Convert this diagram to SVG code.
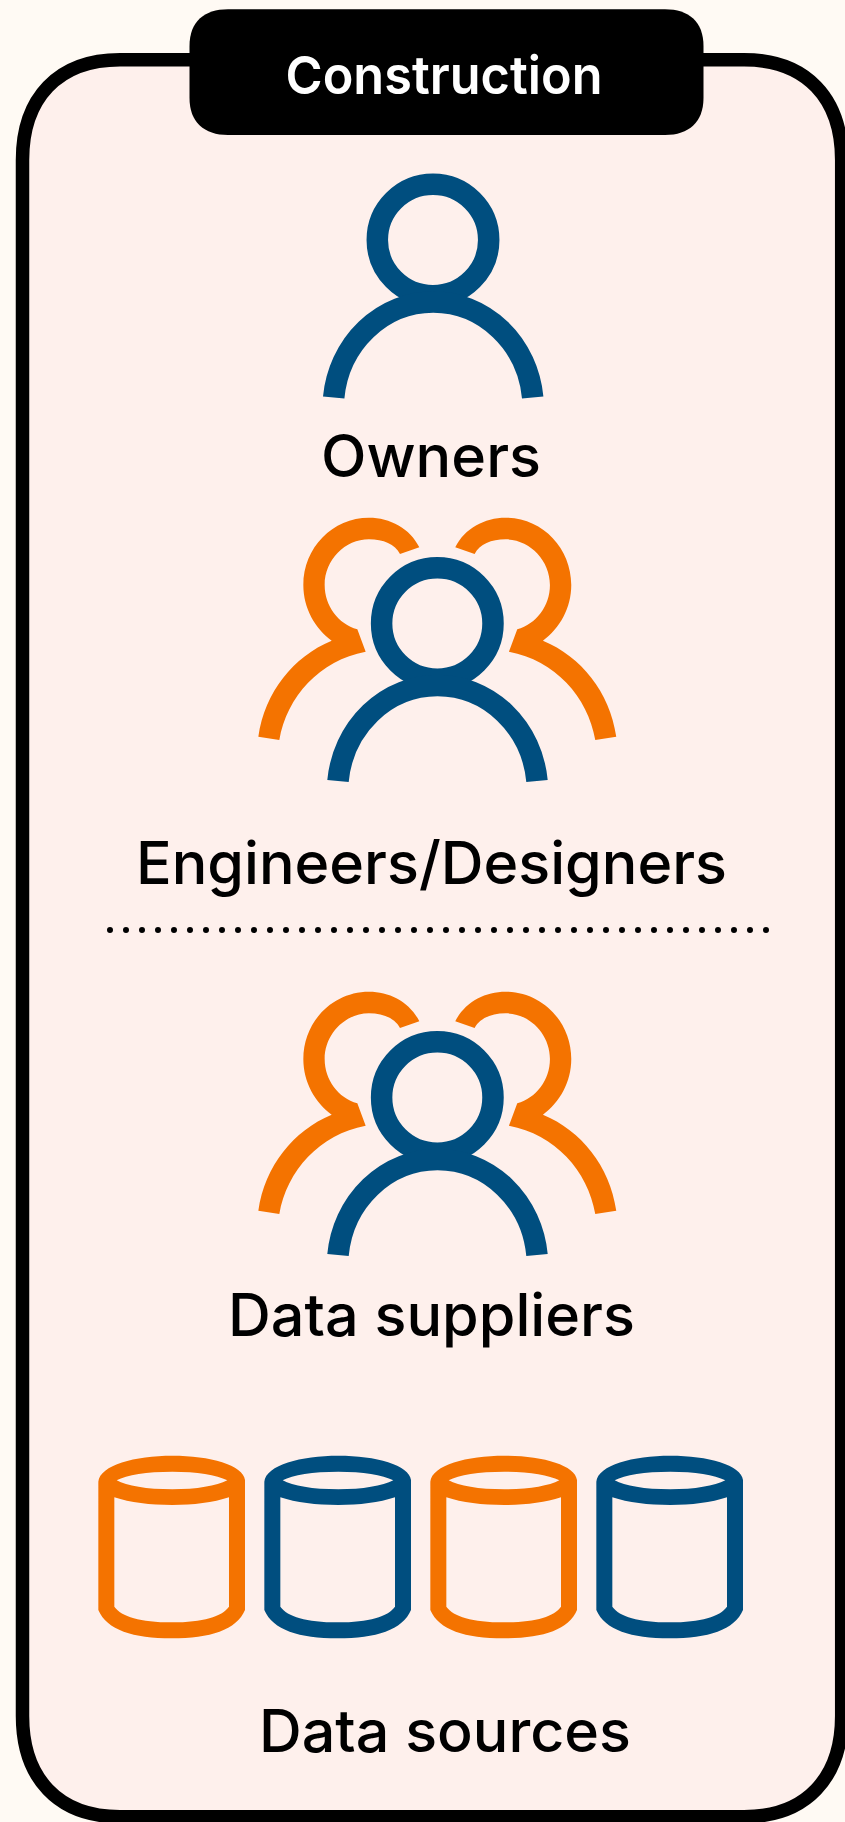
<svg xmlns="http://www.w3.org/2000/svg" width="845" height="1822" viewBox="0 0 845 1822">
<style>
.lbl{font-family:"Inter","Liberation Sans",sans-serif;font-size:59px;font-weight:550;fill:#000}
.title{font-family:"Inter","Liberation Sans",Arial,sans-serif;font-size:52.5px;font-weight:600;fill:#fff}
.b{fill:none;stroke:#004E7F;stroke-width:21.5}
.fo{fill:#F47300}
.fb{fill:#004E7F}
</style>
<defs>
<g id="person"><circle cx="437.3" cy="623.5" r="55.7"/><path d="M338 781A100 106 0 0 1 537 781"/></g>
<path id="side" d="M568 142C540 85 480 53 417 53C308 53 220 143 220 255C220 325 255 385 305 422C190 470 105 575 85 710L148 720C170 590 270 480 407 455L382 388C325 372 284 318 284 255C284 180 345 118 417 118C460 118 495 133 510 162Z"/>
<path id="cyl" fill-rule="evenodd" d="M55 155C60 105 165 77 277 77C390 77 490 105 495 150V540C470 600 390 625 275 625C160 625 80 600 55 540ZM110 151C140 135 200 125 277 125C350 125 410 135 442 151C410 168 350 178 277 178C200 178 140 168 110 151ZM103 202C150 218 210 225 277 225C340 225 400 218 447 202V530C425 560 370 577 275 577C180 577 125 560 103 530Z"/>
<g id="crowd"><use href="#side" class="fo" transform="translate(230 500) scale(.33333)"/><use href="#side" class="fo" transform="translate(644.600 500) scale(-.33333 .33333)"/><use href="#person" class="b"/></g>
</defs>
<rect width="845" height="1822" fill="#FFFAF4"/>
<g id="frame"><path d="M22.500 160C22.500 98 58 59.700 120 59.700H744C806 59.700 841.700 98 841.700 160V1716C841.700 1778 806 1816.700 744 1816.700H120C58 1816.700 22.500 1778 22.500 1716Z" fill="#FEF0EC" stroke="#000" stroke-width="13.500"/></g>
<g id="title"><path d="M189.500 46C189.500 22 204 9.300 228 9.300H665C689 9.300 703.500 22 703.500 46V98C703.500 122 689 135 665 135H228C204 135 189.500 122 189.500 98Z" fill="#000"/><text class="title" x="285.500" y="94" textLength="317" lengthAdjust="spacingAndGlyphs">Construction</text></g>
<g id="owners"><use href="#person" class="b" transform="translate(-4.300 -383.500)"/><text class="lbl" x="321" y="477" textLength="220" lengthAdjust="spacingAndGlyphs">Owners</text></g>
<g id="engineers"><use href="#crowd"/><text class="lbl" x="136" y="884" textLength="591" lengthAdjust="spacingAndGlyphs">Engineers/Designers</text></g>
<g id="divider"><line x1="110" y1="930" x2="770" y2="930" stroke="#000" stroke-width="6" stroke-linecap="round" stroke-dasharray="0 16"/></g>
<g id="suppliers"><use href="#crowd" transform="translate(0 474)"/><text class="lbl" x="228" y="1336" textLength="407" lengthAdjust="spacingAndGlyphs">Data suppliers</text></g>
<g id="sources"><use href="#cyl" class="fo" transform="translate(80 1430) scale(.33333)"/><use href="#cyl" class="fb" transform="translate(246 1430) scale(.33333)"/><use href="#cyl" class="fo" transform="translate(412 1430) scale(.33333)"/><use href="#cyl" class="fb" transform="translate(578 1430) scale(.33333)"/><text class="lbl" x="259" y="1752" textLength="372" lengthAdjust="spacingAndGlyphs">Data sources</text></g>
</svg>
